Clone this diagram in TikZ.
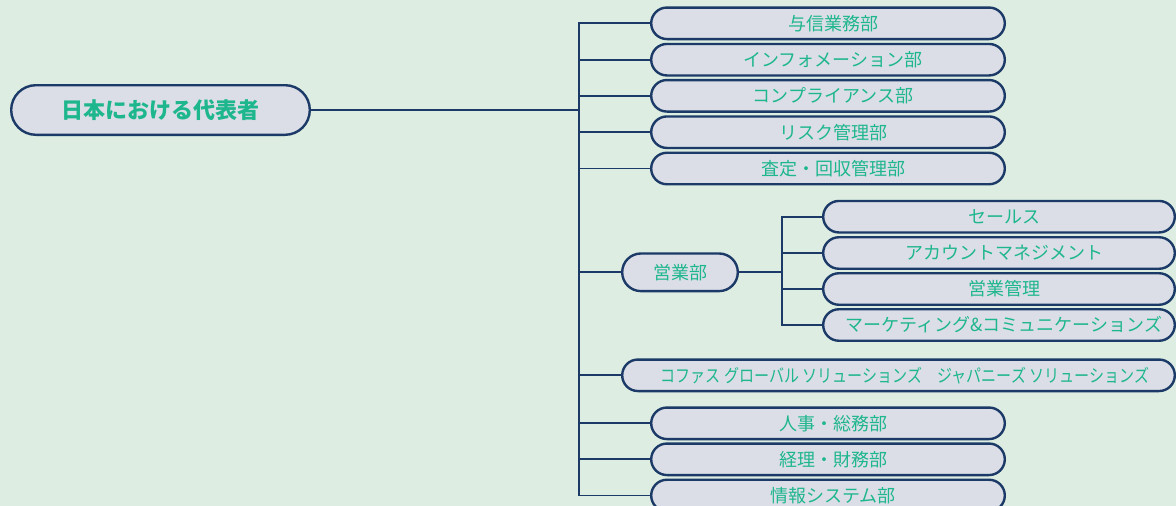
\documentclass[tikz,border=0pt]{standalone}
\usepackage{fontspec}
\setmainfont{Noto Sans CJK JP}
\usetikzlibrary{positioning}
\definecolor{bgcol}{HTML}{DDEDE1}
\definecolor{boxfill}{HTML}{DBDEE7}
\definecolor{navy}{HTML}{1B3A67}
\definecolor{txtgreen}{HTML}{1EB68D}
\begin{document}
\begin{tikzpicture}[x=1pt,y=-1pt,
  box/.style={draw=navy,fill=boxfill,line width=2.4pt,rounded corners=15.7pt,
    minimum height=31.5pt,inner sep=0pt,outer sep=0pt,text=txtgreen,
    font=\fontsize{18}{21}\selectfont},
  pushright/.style={execute at begin node={\hspace*{#1}}},
  topbox/.style={box,pushright=10pt,minimum width=353.6pt},
  subbox/.style={box,pushright=10pt,minimum width=351.6pt},
  link/.style={draw=navy,line width=1.8pt}]
\fill[bgcol] (0,0) rectangle (1176,506);
\useasboundingbox (0,0) rectangle (1176,506);

% nodes
\node[box,minimum width=298.6pt,minimum height=49.6pt,rounded corners=24.7pt,
  font=\fontsize{22}{26}\selectfont\bfseries] (root) at (160.5,110) {日本における代表者};

\node[topbox] (b1) at (828,23.3) {与信業務部};
\node[topbox] (b2) at (828,59.7) {インフォメーション部};
\node[topbox] (b3) at (828,95.8) {コンプライアンス部};
\node[topbox] (b4) at (828,132.2) {リスク管理部};
\node[topbox] (b5) at (828,168.5) {査定・回収管理部};

\node[box,minimum width=115.6pt,minimum height=37.6pt,rounded corners=18.7pt] (sales) at (680,272.3) {営業部};

\node[subbox] (s1) at (999,216.7) {セールス};
\node[subbox] (s2) at (999,253) {アカウントマネジメント};
\node[subbox] (s3) at (999,289) {営業管理};
\node[subbox] (s4) at (999,325) {マーケティング\&コミュニケーションズ};

\node[box,pushright=13pt,minimum width=552.6pt] (coface) at (898.5,375.3)
  {\scalebox{0.835}[1]{コファス グローバル ソリューションズ　ジャパニーズ ソリューションズ}};

\node[topbox] (b6) at (828,423.3) {人事・総務部};
\node[topbox] (b7) at (828,459.3) {経理・財務部};
\node[topbox] (b8) at (828,495.5) {情報システム部};

% connectors
\coordinate (trunk) at (579,110);
\draw[link] (root.east) -- (trunk);
\foreach \n in {b1,b2,b3,b4,b5,sales,coface,b6,b7,b8}
  \draw[link] (trunk) |- (\n.west);

\coordinate (sub) at (782,272.3);
\draw[link] (sales.east) -- (sub);
\foreach \n in {s1,s2,s3,s4}
  \draw[link] (sub) |- (\n.west);
\end{tikzpicture}
\end{document}
